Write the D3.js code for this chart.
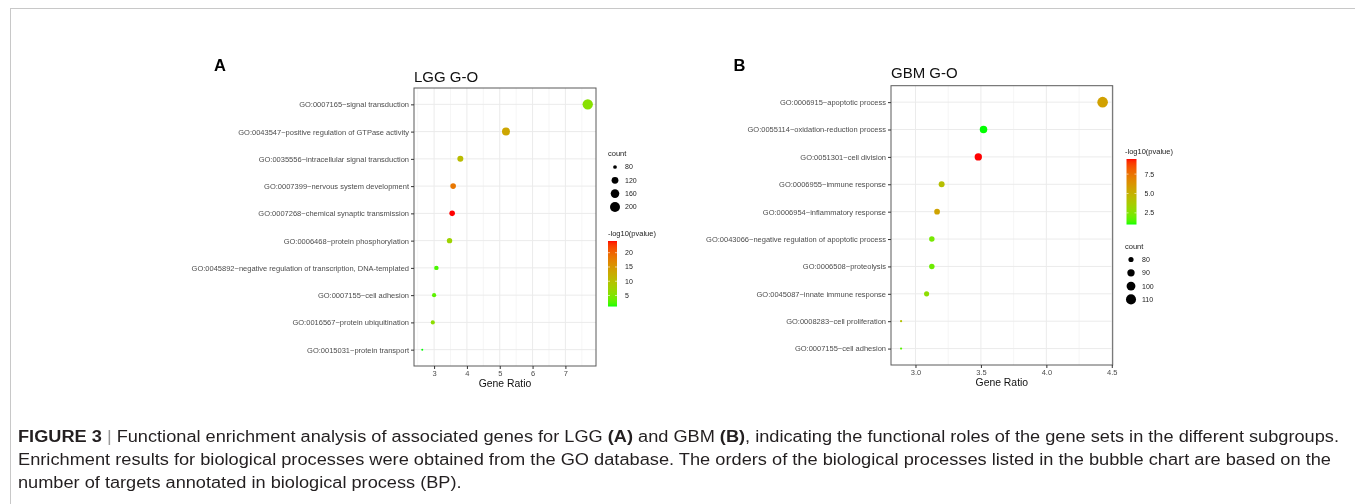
<!DOCTYPE html>
<html>
<head>
<meta charset="utf-8">
<script src="https://cdn.jsdelivr.net/npm/d3@7"></script>
<style>
  body { margin: 0; background: #fff; }
  svg { display: block; font-family: "Liberation Sans", Arial, sans-serif; opacity: 0.999; will-change: transform; }
</style>
</head>
<body>
<svg id="fig" width="1355" height="504"></svg>
<script>
// ---- data ----
const lggTerms = [
  "GO:0007165~signal transduction",
  "GO:0043547~positive regulation of GTPase activity",
  "GO:0035556~intracellular signal transduction",
  "GO:0007399~nervous system development",
  "GO:0007268~chemical synaptic transmission",
  "GO:0006468~protein phosphorylation",
  "GO:0045892~negative regulation of transcription, DNA-templated",
  "GO:0007155~cell adhesion",
  "GO:0016567~protein ubiquitination",
  "GO:0015031~protein transport"
];
const lggRatio = [7.68, 5.19, 3.80, 3.58, 3.55, 3.47, 3.07, 3.00, 2.96, 2.64];
const lggCount = [214, 145, 106, 100, 99, 97, 86, 84, 83, 74];
const lggLogP = [5.6, 13.3, 10.6, 18.4, 24.1, 7.4, 2.3, 3.0, 6.0, 1.15];
const lggRatioTicks = [3, 4, 5, 6, 7];
const lggCountBreaks = [80, 120, 160, 200];
const lggPBreaks = [5, 10, 15, 20];

const gbmTerms = [
  "GO:0006915~apoptotic process",
  "GO:0055114~oxidation-reduction process",
  "GO:0051301~cell division",
  "GO:0006955~immune response",
  "GO:0006954~inflammatory response",
  "GO:0043066~negative regulation of apoptotic process",
  "GO:0006508~proteolysis",
  "GO:0045087~innate immune response",
  "GO:0008283~cell proliferation",
  "GO:0007155~cell adhesion"
];
const gbmRatio = [4.43, 3.52, 3.48, 3.20, 3.165, 3.125, 3.125, 3.085, 2.89, 2.89];
const gbmCount = [115, 91, 90, 83, 82, 81, 81, 80, 75, 75];
const gbmLogP = [5.7, 1.0, 9.45, 4.3, 5.6, 2.2, 2.0, 2.8, 4.2, 1.6];
const gbmRatioTicks = [3.0, 3.5, 4.0, 4.5];
const gbmCountBreaks = [80, 90, 100, 110];
const gbmPBreaks = [2.5, 5.0, 7.5];

const captionLines = [
  [["FIGURE 3", true], [" | ", false, "#999"], ["Functional enrichment analysis of associated genes for LGG ", false], ["(A)", true], [" and GBM ", false], ["(B)", true], [", indicating the functional roles of the gene sets in the different subgroups.", false]],
  [["Enrichment results for biological processes were obtained from the GO database. The orders of the biological processes listed in the bubble chart are based on the", false]],
  [["number of targets annotated in biological process (BP).", false]]
];

const svg = d3.select("#fig");

// outer frame of the figure box (runs past the right and bottom edge)
svg.append("rect")
  .attr("x", 10.5).attr("y", 8.5)
  .attr("width", 1360).attr("height", 520)
  .attr("fill", "none").attr("stroke", "#c8c8c8");

function drawPanel(cfg) {
  const g = svg.append("g");
  const rows = cfg.terms.map((t, i) => ({
    term: t, ratio: cfg.ratio[i], count: cfg.count[i], logp: cfg.logp[i]
  }));

  const [lo, hi] = d3.extent(cfg.ratio);
  const pad = (hi - lo) * 0.05;
  const x = d3.scaleLinear().domain([lo - pad, hi + pad]).range([cfg.x0, cfg.x1]);
  const y = d3.scalePoint().domain(cfg.terms).range([cfg.y0, cfg.y1]).padding(0.6);
  const color = d3.scaleLinear().domain(d3.extent(cfg.logp))
    .range(["#00ff00", "#ff0000"]).interpolate(d3.interpolateLab);
  const tcount = d3.scaleLinear().domain(d3.extent(cfg.count)).range([0, 1]);
  const rad = d3.scalePow().exponent(0.5).domain([0, 1]).range(cfg.rRange);
  const size = c => rad(tcount(Math.max(c, d3.min(cfg.count))));

  // grid
  const step = cfg.ticks[1] - cfg.ticks[0];
  const minor = [];
  for (let v = cfg.ticks[0] - step / 2; v < x.domain()[1]; v += step) {
    if (v > x.domain()[0]) minor.push(v);
  }
  g.selectAll(".minor").data(minor).enter().append("line")
    .attr("x1", d => x(d)).attr("x2", d => x(d))
    .attr("y1", cfg.y0).attr("y2", cfg.y1)
    .attr("stroke", "#f0f0f0").attr("stroke-width", 0.6);
  g.selectAll(".majx").data(cfg.ticks).enter().append("line")
    .attr("x1", d => x(d)).attr("x2", d => x(d))
    .attr("y1", cfg.y0).attr("y2", cfg.y1)
    .attr("stroke", "#ebebeb").attr("stroke-width", 1);
  g.selectAll(".majy").data(cfg.terms).enter().append("line")
    .attr("x1", cfg.x0).attr("x2", cfg.x1)
    .attr("y1", d => y(d)).attr("y2", d => y(d))
    .attr("stroke", "#ebebeb").attr("stroke-width", 1);

  // points
  g.selectAll("circle.pt").data(rows).enter().append("circle")
    .attr("class", "pt")
    .attr("cx", d => x(d.ratio))
    .attr("cy", d => y(d.term))
    .attr("r", d => size(d.count))
    .attr("fill", d => color(d.logp));

  // panel border
  g.append("rect")
    .attr("x", cfg.x0).attr("y", cfg.y0)
    .attr("width", cfg.x1 - cfg.x0).attr("height", cfg.y1 - cfg.y0)
    .attr("fill", "none").attr("stroke", "#5a5a5a").attr("stroke-width", 1);

  // axes
  const ax = g.append("g").attr("transform", `translate(0,${cfg.y1})`)
    .call(d3.axisBottom(x).tickValues(cfg.ticks).tickSize(3).tickPadding(2).tickFormat(cfg.fmt));
  const ay = g.append("g").attr("transform", `translate(${cfg.x0},0)`)
    .call(d3.axisLeft(y).tickSize(3).tickPadding(2));
  [ax, ay].forEach(a => {
    a.select(".domain").remove();
    a.selectAll("line").attr("stroke", "#333");
    a.selectAll("text").attr("fill", "#4d4d4d")
      .style("font-size", "7.5px").style("font-family", "'Liberation Sans', Arial, sans-serif");
  });

  g.append("text")
    .attr("x", (cfg.x0 + cfg.x1) / 2).attr("y", cfg.y1 + 21)
    .attr("text-anchor", "middle").attr("font-size", 10.4).attr("fill", "#111")
    .text("Gene Ratio");

  g.append("text")
    .attr("x", cfg.titleX).attr("y", cfg.titleY)
    .attr("font-size", 15).attr("fill", "#111")
    .text(cfg.title);

  g.append("text")
    .attr("x", cfg.letterX).attr("y", cfg.letterY)
    .attr("font-size", 16.5).attr("font-weight", "bold").attr("fill", "#000")
    .text(cfg.letter);

  // size legend
  const sl = g.append("g").attr("transform", `translate(${cfg.sizeLeg[0]},${cfg.sizeLeg[1]})`);
  sl.append("text").attr("x", 0).attr("y", 0).attr("font-size", 7.5).attr("fill", "#222").text("count");
  const items = sl.selectAll("g.key").data(cfg.countBreaks).enter().append("g")
    .attr("transform", (d, i) => `translate(0,${11 + i * 13.3})`);
  items.append("circle").attr("cx", cfg.keyDx).attr("cy", 0).attr("r", d => size(d)).attr("fill", "#000");
  items.append("text").attr("x", cfg.labDx).attr("y", 0).attr("dy", "0.35em")
    .attr("font-size", 7).attr("fill", "#222").text(d => d);

  // colour bar legend
  const cl = g.append("g").attr("transform", `translate(${cfg.colLeg[0]},${cfg.colLeg[1]})`);
  cl.append("text").attr("x", 0).attr("y", 0).attr("font-size", 7.5).attr("fill", "#222").text("-log10(pvalue)");
  const barTop = 5, barH = 65.5;
  const cy = d3.scaleLinear().domain(color.domain()).range([barTop + barH, barTop]);
  const gid = "grad" + cfg.letter;
  const grad = svg.append("defs").append("linearGradient").attr("id", gid)
    .attr("x1", 0).attr("x2", 0).attr("y1", 1).attr("y2", 0);
  const dom = color.domain();
  d3.range(0, 1.0001, 0.01).forEach(s => {
    grad.append("stop").attr("offset", s)
      .attr("stop-color", color(dom[0] + s * (dom[1] - dom[0])));
  });
  cl.append("rect").attr("x", cfg.barDx).attr("y", barTop)
    .attr("width", cfg.barW).attr("height", barH).attr("fill", `url(#${gid})`);
  const bt = cl.selectAll("g.bt").data(cfg.pBreaks).enter().append("g");
  bt.append("line").attr("x1", cfg.barDx).attr("x2", cfg.barDx + 2)
    .attr("y1", d => cy(d)).attr("y2", d => cy(d)).attr("stroke", "#fff").attr("stroke-width", 0.6);
  bt.append("line").attr("x1", cfg.barDx + cfg.barW - 2).attr("x2", cfg.barDx + cfg.barW)
    .attr("y1", d => cy(d)).attr("y2", d => cy(d)).attr("stroke", "#fff").attr("stroke-width", 0.6);
  bt.append("text").attr("x", cfg.barDx + cfg.barW + 8).attr("y", d => cy(d)).attr("dy", "0.35em")
    .attr("font-size", 7).attr("fill", "#222").text(d => cfg.pFmt(d));
}

drawPanel({
  terms: lggTerms, ratio: lggRatio, count: lggCount, logp: lggLogP,
  ticks: lggRatioTicks, fmt: d3.format("d"),
  countBreaks: lggCountBreaks, pBreaks: lggPBreaks, pFmt: d3.format("d"),
  x0: 414, x1: 596, y0: 88, y1: 366, rRange: [1.0, 5.2],
  title: "LGG G-O", titleX: 414, titleY: 81.5,
  letter: "A", letterX: 214, letterY: 71,
  sizeLeg: [608, 156], keyDx: 7, labDx: 17,
  colLeg: [608, 236], barDx: 0, barW: 9
});

drawPanel({
  terms: gbmTerms, ratio: gbmRatio, count: gbmCount, logp: gbmLogP,
  ticks: gbmRatioTicks, fmt: d3.format(".1f"),
  countBreaks: gbmCountBreaks, pBreaks: gbmPBreaks, pFmt: d3.format(".1f"),
  x0: 891, x1: 1112.7, y0: 85.7, y1: 365, rRange: [1.1, 5.3],
  title: "GBM G-O", titleX: 891, titleY: 78.3,
  letter: "B", letterX: 733.5, letterY: 70.7,
  sizeLeg: [1125, 248.5], keyDx: 6, labDx: 17,
  colLeg: [1125, 154], barDx: 1.5, barW: 10
});

// caption
const capY = [442, 465, 488];
const cap = svg.append("g").attr("font-size", 16).attr("fill", "#231f20");
const texts = captionLines.map((line, i) => {
  const t = cap.append("text").attr("x", 18).attr("y", capY[i]);
  line.forEach(([s, bold, col]) => {
    const sp = t.append("tspan").text(s);
    if (bold) sp.attr("font-weight", "bold");
    if (col) sp.attr("fill", col);
  });
  return t;
});
const k = 1321 / texts[0].node().getComputedTextLength();
texts.forEach((t, i) => {
  const w = i === 1 ? 1313 : t.node().getComputedTextLength() * k;
  t.attr("textLength", w).attr("lengthAdjust", "spacingAndGlyphs");
});
</script>
</body>
</html>
